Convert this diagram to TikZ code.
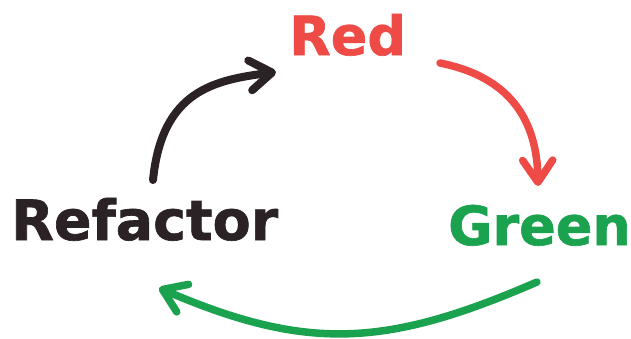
\documentclass[tikz,border=0pt]{standalone}
\usepackage{fontspec}
\setmainfont{DejaVu Sans}
\newfontfamily\heavyfont{DejaVu Sans Bold}[FakeBold=1.2]
\usetikzlibrary{arrows.meta}
\definecolor{tddred}{HTML}{EE4B47}
\definecolor{tddgreen}{HTML}{1BA24E}
\definecolor{tddblack}{HTML}{2A2224}
\tikzset{
  label/.style={inner sep=0pt, anchor=base west, font=\heavyfont\fontsize{54}{60}\selectfont},
  cyc/.style={line width=8pt, line cap=round,
    -{Straight Barb[length=22pt,width=30pt,round]}},
}
\begin{document}
\begin{tikzpicture}[x=1pt,y=-1pt]
\useasboundingbox (0,0) rectangle (631,338);
\node[label, text=tddred] (red) at (289,55) {Red};
\node[label, text=tddblack, font=\heavyfont\fontsize{55.5}{60}\selectfont] (refactor) at (11,240) {Refactor};
\node[label, text=tddgreen] (green) at (448,245) {Green};
\coordinate (k0) at (153,180);
\coordinate (k1) at (276,72);
\coordinate (r0) at (440,63);
\coordinate (r1) at (538,186);
\coordinate (g0) at (537,282);
\coordinate (g1) at (159,288);
\draw[cyc, tddblack] (k0) .. controls (162,90) and (215,80) .. (k1);
\draw[cyc, tddred, line width=7.5pt] (r0) .. controls (500,75) and (537,110) .. (r1);
\draw[cyc, tddgreen, line width=7.5pt] (g0) .. controls (387,347) and (308,352) .. (g1);
\end{tikzpicture}
\end{document}
